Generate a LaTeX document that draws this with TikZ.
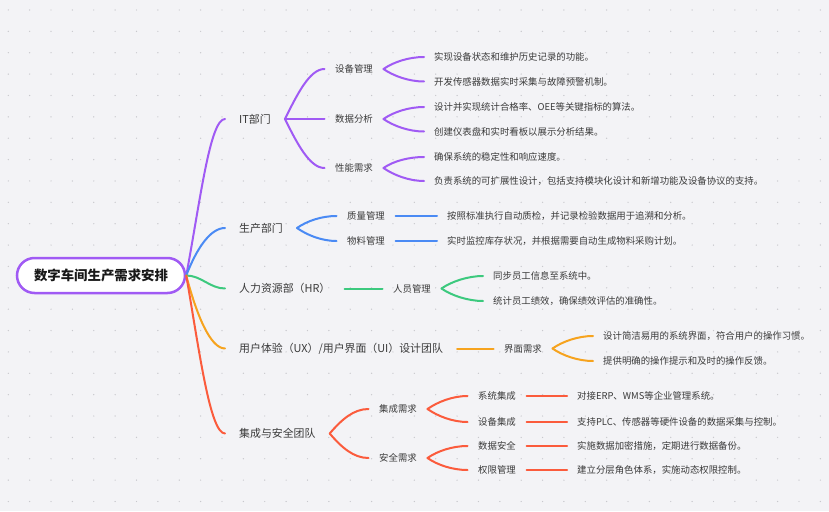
\documentclass[tikz,border=0pt]{standalone}
\usepackage{fontspec}
\setmainfont{Noto Sans CJK SC}
\definecolor{bg}{HTML}{F3F3F6}
\definecolor{dotc}{HTML}{C8C8CD}
\definecolor{cpur}{HTML}{A05AF4}
\definecolor{cblu}{HTML}{4A8AF4}
\definecolor{cgrn}{HTML}{3CC97E}
\definecolor{cora}{HTML}{F6A31E}
\definecolor{cred}{HTML}{FB5B3C}
\definecolor{txt}{HTML}{3A3A3A}
\newcommand\lnk[4]{\draw[#1] (#2.east) .. controls +(#3) and +(-15,0) .. (#4.west);}
\newcommand\strt[3]{\draw[#1] (#2.east) -- (#3.west);}
\begin{document}
\begin{tikzpicture}[x=1pt,y=-1pt,
  rootbox/.style={draw=cpur,line width=2.5pt,fill=white,rounded corners=17.5pt,
    minimum width=168pt,minimum height=35pt,inner sep=0pt,text=black!90,
    font=\bfseries\fontsize{13.4}{16}\selectfont},
  lone/.style={anchor=west,inner xsep=14pt,inner ysep=1pt,text=txt,font=\fontsize{10.9}{13}\selectfont},
  ltwo/.style={anchor=west,inner xsep=10.5pt,inner ysep=1pt,text=txt,font=\fontsize{9.4}{11}\selectfont},
  leaf/.style={anchor=west,inner xsep=10pt,inner ysep=1pt,text=txt,font=\fontsize{9.4}{11}\selectfont},
  wire/.style={line width=2pt,line cap=round},
  pw/.style={wire,cpur}, bw/.style={wire,cblu}, gw/.style={wire,cgrn},
  ow/.style={wire,cora}, rw/.style={wire,cred}]
\fill[bg] (0,0) rectangle (829,511);
\useasboundingbox (0,0) rectangle (829,511);
\foreach \i in {0,...,38}{\foreach \j in {0,...,23}{
  \fill[dotc] (8.3+\i*21.37,10+\j*21.37) circle (0.7pt);}}

% root
\node[rootbox] (root) at (101,275.5) {数字车间生产需求安排};

% level 1
\node[lone] (it) at (225,119) {IT部门};
\node[lone] (prod) at (225,228) {生产部门};
\node[lone] (hr) at (225,288.5) {人力资源部（HR）};
\node[lone] (ux) at (225,348.5) {用户体验（UX）/用户界面（UI）设计团队};
\node[lone] (sec) at (225,433.5) {集成与安全团队};

\lnk{pw}{root}{14,-75}{it}
\lnk{bw}{root}{10,-26}{prod}
\lnk{gw}{root}{15,0}{hr}
\lnk{ow}{root}{10,38}{ux}
\lnk{rw}{root}{13,75}{sec}

% IT
\node[ltwo] (dev) at (324.5,69) {设备管理};
\node[ltwo] (data) at (324.5,119) {数据分析};
\node[ltwo] (perf) at (324.5,168) {性能需求};
\lnk{pw}{it}{12,-24}{dev}
\strt{pw}{it}{data}
\lnk{pw}{it}{12,24}{perf}

\node[leaf] (d1) at (424,57) {实现设备状态和维护历史记录的功能。};
\node[leaf] (d2) at (424,81.5) {开发传感器数据实时采集与故障预警机制。};
\node[leaf] (a1) at (424,107) {设计并实现统计合格率、OEE等关键指标的算法。};
\node[leaf] (a2) at (424,131.5) {创建仪表盘和实时看板以展示分析结果。};
\node[leaf] (p1) at (424,157) {确保系统的稳定性和响应速度。};
\node[leaf] (p2) at (424,181) {负责系统的可扩展性设计，包括支持模块化设计和新增功能及设备协议的支持。};
\lnk{pw}{dev}{10,-7}{d1}
\lnk{pw}{dev}{10,7}{d2}
\lnk{pw}{data}{10,-7}{a1}
\lnk{pw}{data}{10,7}{a2}
\lnk{pw}{perf}{10,-7}{p1}
\lnk{pw}{perf}{10,7}{p2}

% production
\node[ltwo] (qm) at (336.5,216) {质量管理};
\node[ltwo] (mm) at (336.5,241) {物料管理};
\lnk{bw}{prod}{10,-7}{qm}
\lnk{bw}{prod}{10,7}{mm}
\node[leaf] (q1) at (437,216) {按照标准执行自动质检，并记录检验数据用于追溯和分析。};
\node[leaf] (m1) at (437,241) {实时监控库存状况，并根据需要自动生成物料采购计划。};
\strt{bw}{qm}{q1}
\strt{bw}{mm}{m1}

% HR
\node[ltwo] (pm) at (382.5,288.5) {人员管理};
\strt{gw}{hr}{pm}
\node[leaf] (h1) at (483,276) {同步员工信息至系统中。};
\node[leaf] (h2) at (483,301) {统计员工绩效，确保绩效评估的准确性。};
\lnk{gw}{pm}{10,-7}{h1}
\lnk{gw}{pm}{10,7}{h2}

% UX
\node[ltwo] (ui) at (493.5,348.5) {界面需求};
\strt{ow}{ux}{ui}
\node[leaf] (u1) at (593,336) {设计简洁易用的系统界面，符合用户的操作习惯。};
\node[leaf] (u2) at (593,361) {提供明确的操作提示和及时的操作反馈。};
\lnk{ow}{ui}{10,-7}{u1}
\lnk{ow}{ui}{10,7}{u2}

% integration & security
\node[ltwo] (ir) at (368.5,409) {集成需求};
\node[ltwo] (sr) at (368.5,458) {安全需求};
\lnk{rw}{sec}{12,-14}{ir}
\lnk{rw}{sec}{12,14}{sr}
\node[ltwo] (si) at (467.5,396) {系统集成};
\node[ltwo] (di) at (467.5,422) {设备集成};
\node[ltwo] (ds) at (467.5,446) {数据安全};
\node[ltwo] (am) at (467.5,470) {权限管理};
\lnk{rw}{ir}{10,-7}{si}
\lnk{rw}{ir}{10,7}{di}
\lnk{rw}{sr}{10,-7}{ds}
\lnk{rw}{sr}{10,7}{am}
\node[leaf] (s1) at (567,396) {对接ERP、WMS等企业管理系统。};
\node[leaf] (s2) at (567,422) {支持PLC、传感器等硬件设备的数据采集与控制。};
\node[leaf] (s3) at (567,446) {实施数据加密措施，定期进行数据备份。};
\node[leaf] (s4) at (567,470) {建立分层角色体系，实施动态权限控制。};
\strt{rw}{si}{s1}
\strt{rw}{di}{s2}
\strt{rw}{ds}{s3}
\strt{rw}{am}{s4}
\end{tikzpicture}
\end{document}
